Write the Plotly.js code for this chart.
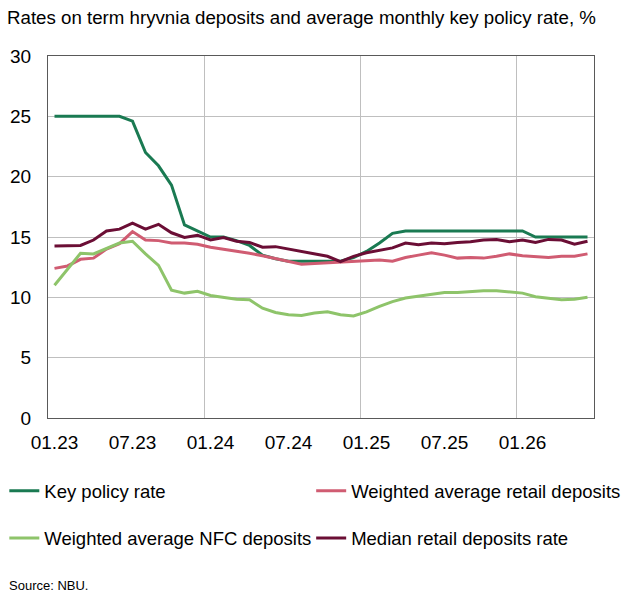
<!DOCTYPE html>
<html>
<head>
<meta charset="utf-8">
<script src="https://cdn.plot.ly/plotly-3.0.1.min.js"></script>
<style>
  html, body { margin: 0; padding: 0; background: #fff; }
  #chart { width: 630px; height: 611px; }
</style>
</head>
<body>
<div id="chart"></div>
<script>
// months 01.23 .. 06.26
var months = [
  '01.23','02.23','03.23','04.23','05.23','06.23','07.23','08.23','09.23','10.23','11.23','12.23',
  '01.24','02.24','03.24','04.24','05.24','06.24','07.24','08.24','09.24','10.24','11.24','12.24',
  '01.25','02.25','03.25','04.25','05.25','06.25','07.25','08.25','09.25','10.25','11.25','12.25',
  '01.26','02.26','03.26','04.26','05.26','06.26'
];
var labelMonths = ['01.23','07.23','01.24','07.24','01.25','07.25','01.26'];
// vertical grid sits on the boundary before each January
var gridAt = [11.5, 23.5, 35.5];

var keyRate = [
  25, 25, 25, 25, 25, 25, 24.6, 22, 20.9, 19.3, 16, 15.5,
  15, 15, 14.7, 14.3, 13.5, 13.2, 13, 13, 13, 13, 13, 13.3,
  13.8, 14.5, 15.3, 15.5, 15.5, 15.5, 15.5, 15.5, 15.5, 15.5, 15.5, 15.5,
  15.5, 15, 15, 15, 15, 15
];
var retailAvg = [
  12.4, 12.6, 13.15, 13.25, 14.0, 14.45, 15.45, 14.75, 14.7, 14.5, 14.5, 14.4,
  14.15, 14.0, 13.85, 13.65, 13.45, 13.2, 12.95, 12.75, 12.8, 12.85, 12.9, 12.95,
  13.0, 13.1, 13.0, 13.3, 13.5, 13.7, 13.5, 13.25, 13.3, 13.25, 13.4, 13.6,
  13.45, 13.4, 13.3, 13.4, 13.4, 13.6
];
var nfcAvg = [
  11.0, 12.35, 13.65, 13.6, 14.05, 14.5, 14.65, 13.6, 12.65, 10.6, 10.35, 10.5,
  10.15, 10.0, 9.85, 9.8, 9.1, 8.75, 8.55, 8.5, 8.7, 8.8, 8.55, 8.45,
  8.8, 9.25, 9.65, 9.95, 10.1, 10.25, 10.4, 10.4, 10.5, 10.55, 10.55, 10.45,
  10.35, 10.05, 9.95, 9.8, 9.85, 10.0
];
var retailMedian = [
  14.25, 14.3, 14.3, 14.75, 15.5, 15.65, 16.15, 15.65, 16.05, 15.35, 14.97, 15.15,
  14.75, 14.95, 14.65, 14.55, 14.15, 14.2, 14.0, 13.8, 13.6, 13.4, 12.95, 13.4,
  13.7, 13.9, 14.1, 14.5, 14.35, 14.5, 14.45, 14.55, 14.6, 14.75, 14.8, 14.6,
  14.75, 14.55, 14.8, 14.75, 14.4, 14.65
];

var font = 'Liberation Sans, Arial, sans-serif';

function line(name, y, color, legend, xaxis) {
  return {
    x: months,
    y: y,
    name: name,
    type: 'scatter',
    mode: 'lines',
    line: {color: color, width: 3},
    legend: legend,
    xaxis: xaxis,
    hoverinfo: 'x+y+name'
  };
}

// the last series sits on the overlay axis so its grid gets drawn
var data = [
  line('Key policy rate', keyRate, '#1a7a52', 'legend', 'x'),
  line('Weighted average retail deposits', retailAvg, '#d05c72', 'legend2', 'x'),
  line('Weighted average NFC deposits', nfcAvg, '#8ec46a', 'legend3', 'x'),
  line('Median retail deposits rate', retailMedian, '#6b0e35', 'legend4', 'x2')
];

// one legend per cell: 2 columns x 2 rows
function legendAt(x, y) {
  return {
    orientation: 'h',
    x: x,
    y: y,
    xanchor: 'left',
    yanchor: 'middle',
    font: {family: font, size: 18.5, color: '#000'},
    bgcolor: 'rgba(0,0,0,0)'
  };
}

var layout = {
  width: 630,
  height: 611,
  margin: {l: 48, r: 36, t: 56, b: 193, autoexpand: false},
  paper_bgcolor: '#fff',
  plot_bgcolor: '#fff',
  font: {family: font, size: 19, color: '#000'},
  title: {
    text: 'Rates on term hryvnia deposits and average monthly key policy rate, %',
    font: {family: font, size: 18.7, color: '#000'},
    x: 7 / 630,
    xanchor: 'left',
    xref: 'container',
    y: 1 - 17 / 611,
    yanchor: 'middle',
    yref: 'container'
  },
  xaxis: {
    type: 'category',
    categoryarray: months,
    range: [-0.5, months.length - 0.5],
    tickmode: 'array',
    tickvals: labelMonths,
    ticktext: labelMonths,
    showgrid: false,
    ticks: '',
    ticklabelstandoff: 7,
    showline: true,
    linecolor: '#595959',
    linewidth: 1,
    mirror: true,
    tickfont: {family: font, size: 19, color: '#000'}
  },
  xaxis2: {
    type: 'category',
    categoryarray: months,
    overlaying: 'x',
    anchor: 'y',
    range: [-0.5, months.length - 0.5],
    tickmode: 'array',
    tickvals: gridAt,
    showgrid: true,
    gridcolor: '#bfbfbf',
    gridwidth: 1,
    showticklabels: false,
    ticks: '',
    showline: false,
    zeroline: false
  },
  yaxis: {
    range: [0, 30],
    dtick: 5,
    showgrid: true,
    gridcolor: '#bfbfbf',
    gridwidth: 1,
    zeroline: false,
    ticks: '',
    ticklabelstandoff: 12,
    showline: true,
    linecolor: '#595959',
    linewidth: 1,
    mirror: true,
    tickfont: {family: font, size: 19, color: '#000'}
  },
  legend: legendAt(-0.080, -0.202),
  legend2: legendAt(0.482, -0.202),
  legend3: legendAt(-0.080, -0.333),
  legend4: legendAt(0.482, -0.333),
  showlegend: true,
  annotations: [{
    text: 'Source: NBU.',
    xref: 'paper',
    yref: 'paper',
    x: -41 / 546,
    y: (418 - 585.5) / 362,
    xanchor: 'left',
    yanchor: 'middle',
    showarrow: false,
    font: {family: font, size: 13, color: '#000'}
  }]
};

Plotly.newPlot('chart', data, layout, {displayModeBar: false, staticPlot: true});
</script>
</body>
</html>
